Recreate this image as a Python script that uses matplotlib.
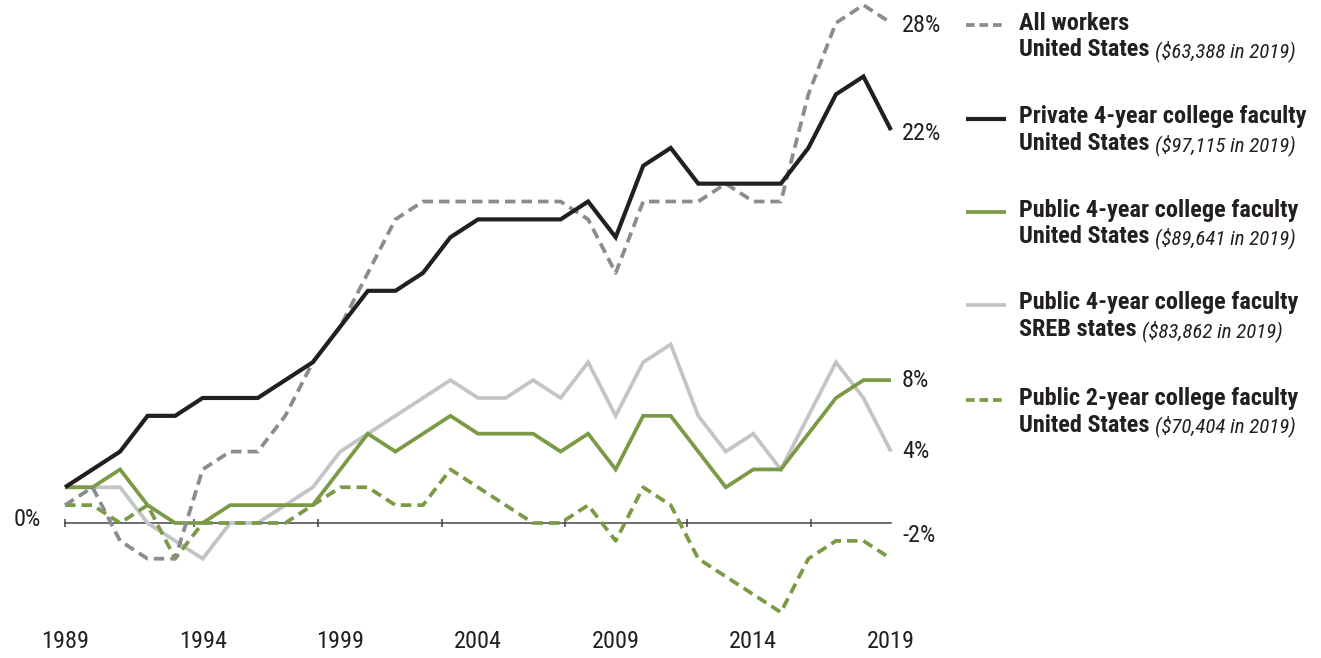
import matplotlib
matplotlib.use("Agg")
import matplotlib.pyplot as plt
from matplotlib import font_manager

# ---- data: percent change in average salary since 1989 ----
years = list(range(1989, 2020))

all_workers_us = [1, 2, -1, -2, -2, 3, 4, 4, 6, 9, 11, 14, 17, 18, 18, 18,
                  18, 18, 18, 17, 14, 18, 18, 18, 19, 18, 18, 24, 28, 29, 28]
private_4yr_us = [2, 3, 4, 6, 6, 7, 7, 7, 8, 9, 11, 13, 13, 14, 16, 17,
                  17, 17, 17, 18, 16, 20, 21, 19, 19, 19, 19, 21, 24, 25, 22]
public_4yr_us = [2, 2, 3, 1, 0, 0, 1, 1, 1, 1, 3, 5, 4, 5, 6, 5,
                 5, 5, 4, 5, 3, 6, 6, 4, 2, 3, 3, 5, 7, 8, 8]
public_4yr_sreb = [2, 2, 2, 0, -1, -2, 0, 0, 1, 2, 4, 5, 6, 7, 8, 7,
                   7, 8, 7, 9, 6, 9, 10, 6, 4, 5, 3, 6, 9, 7, 4]
public_2yr_us = [1, 1, 0, 1, -2, 0, 0, 0, 0, 1, 2, 2, 1, 1, 3, 2,
                 1, 0, 0, 1, -1, 2, 1, -2, -3, -4, -5, -2, -1, -1, -2]

year_labels = ["1989", "1994", "1999", "2004", "2009", "2014", "2019"]
legend_titles = ["All workers",
                 "Private 4-year college faculty",
                 "Public 4-year college faculty",
                 "Public 4-year college faculty",
                 "Public 2-year college faculty"]
legend_regions = ["United States", "United States", "United States",
                  "SREB states", "United States"]
legend_salaries = ["($63,388 in 2019)", "($97,115 in 2019)", "($89,641 in 2019)",
                   "($83,862 in 2019)", "($70,404 in 2019)"]

# ---- style ----
W, H = 1321, 658
DARK = "#231f20"
GRAY = "#8b8c8e"
LIGHT = "#c3c4c6"
GREEN = "#7a9a44"


def pick_font(names):
    for n in names:
        try:
            font_manager.findfont(font_manager.FontProperties(family=n),
                                  fallback_to_default=False)
            return n
        except Exception:
            continue
    return "DejaVu Sans"


FONT = pick_font(["Liberation Sans Narrow", "Roboto Condensed", "Liberation Sans"])
plt.rcParams["font.family"] = [FONT, "DejaVu Sans"]

fig = plt.figure(figsize=(W / 100, H / 100), dpi=100)
ax = fig.add_axes([0, 0, 1, 1])
ax.set_axis_off()

# pixel layout of the plotting area: 1989 -> x=65, 2019 -> x=891; 0% -> y=523
px_per_year = (891 - 65) / 30
px_per_pct = 17.86
ax.set_xlim(1989 - 65 / px_per_year, 1989 + (W - 65) / px_per_year)
ax.set_ylim(-(H - 523) / px_per_pct, 523 / px_per_pct)


def fig_xy(x, y):
    return x / W, 1 - y / H


# horizontal axis with ticks
ax.plot([1989, 2019], [0, 0], color="#444444", lw=1.1, zorder=1)
tick_years = [1989, 1993.7, 1998.2, 2002.7, 2007.15, 2011.6, 2016.1]
tick_half = 4 / px_per_pct
ax.vlines(tick_years, -tick_half, tick_half, color="#444444", lw=1.1, zorder=1)

series = [
    (public_4yr_sreb, LIGHT, "-", 2.7, 2),
    (public_4yr_us, GREEN, "-", 2.7, 3),
    (public_2yr_us, GREEN, "--", 2.7, 4),
    (all_workers_us, GRAY, "--", 2.7, 5),
    (private_4yr_us, DARK, "-", 3.0, 6),
]
for vals, col, ls, lw, z in series:
    line, = ax.plot(years, vals, color=col, lw=lw, zorder=z,
                    solid_joinstyle="miter", solid_capstyle="butt")
    if ls == "--":
        line.set_dashes((2.8, 1.6))
        line.set_dash_capstyle("butt")

# end-of-line value labels
lab_fs = 17.5
end_labels = [("28%", 25), ("22%", 133), ("8%", 381), ("4%", 452), ("-2%", 536)]
for txt, ypx in end_labels:
    fig.text(*fig_xy(902, ypx), txt, ha="left", va="center",
             fontsize=lab_fs, color=DARK)
fig.text(*fig_xy(41, 519), "0%", ha="right", va="center",
         fontsize=lab_fs, color=DARK)

# year labels
for lab in year_labels:
    ax.text(int(lab), -(641 - 523) / px_per_pct, lab, ha="center", va="center",
            fontsize=lab_fs, color=DARK)

# legend
leg_styles = [(GRAY, "--", 2.7), (DARK, "-", 3.0), (GREEN, "-", 2.7),
              (LIGHT, "-", 2.7), (GREEN, "--", 2.7)]
row_y = [23, 117, 210, 303, 398]
for (col, ls, lw), y0, t1, t2, t3 in zip(leg_styles, row_y, legend_titles,
                                          legend_regions, legend_salaries):
    ly = 1 - (y0 + 2) / H
    ln = plt.Line2D([966 / W, 1006 / W], [ly, ly], transform=fig.transFigure,
                    color=col, lw=lw, solid_capstyle="butt")
    if ls == "--":
        ln.set_dashes((2.3, 1.3))
        ln.set_dash_capstyle("butt")
    fig.add_artist(ln)
    fig.text(*fig_xy(1019, y0), t1, ha="left", va="center",
             fontsize=lab_fs, fontweight="bold", color=DARK)
    t = fig.text(*fig_xy(1019, y0 + 27), t2 + " ", ha="left", va="center",
                 fontsize=lab_fs, fontweight="bold", color=DARK)
    fig.canvas.draw()
    bb = t.get_window_extent()
    fig.text(bb.x1 / W, 1 - (y0 + 28) / H, t3, ha="left", va="center",
             fontsize=15, style="italic", color=DARK)

fig.savefig("out.png", dpi=100)
